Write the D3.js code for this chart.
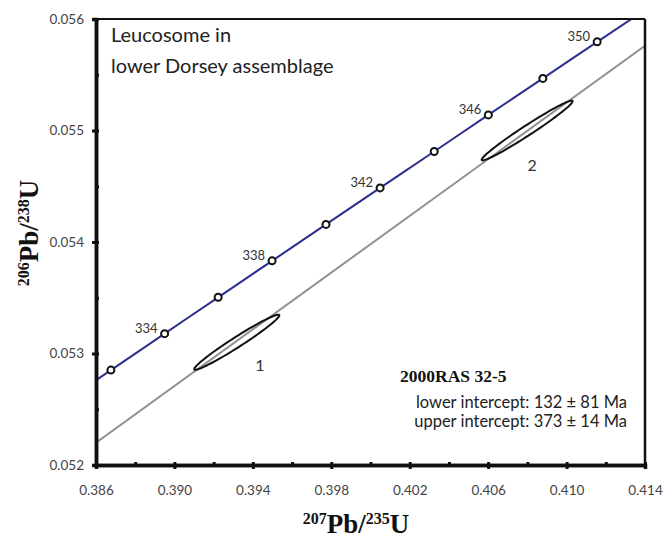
<!DOCTYPE html>
<html>
<head>
<meta charset="utf-8">
<script src="https://cdn.jsdelivr.net/npm/d3@7"></script>
<style>
  body { margin: 0; background: #fff; }
</style>
</head>
<body>
<div id="chart"></div>
<script>
// concordia ages (Ma) and their ratios
var concAges = [332, 334, 336, 338, 340, 342, 344, 346, 348, 350]
var concX = [0.38676, 0.38950, 0.39223, 0.39498, 0.39773, 0.40049, 0.40325, 0.40601, 0.40879, 0.41156]
var concY = [0.052851, 0.053178, 0.053504, 0.053831, 0.054158, 0.054485, 0.054812, 0.055140, 0.055467, 0.055795]
var labelAges = [334, 338, 342, 346, 350]
// curve ends, run past the frame and clipped
var concEndX = [0.38403, 0.41435]
var concEndY = [0.052524, 0.056122]

// discordia through the two analyses
var discX = [0.386, 0.414]
var discY = [0.05220, 0.05576]

// error ellipses: centre, half range, correlation
var ellLabels = ["1", "2"]
var ellX = [0.39318, 0.40799]
var ellY = [0.053101, 0.055000]
var ellSx = [0.00217, 0.00232]
var ellSy = [0.000247, 0.000268]
var ellRho = [0.976, 0.98]

var xMajor = [0.386, 0.390, 0.394, 0.398, 0.402, 0.406, 0.410, 0.414]
var xMinor = [0.388, 0.392, 0.396, 0.400, 0.404, 0.408, 0.412]
var yMajor = [0.052, 0.053, 0.054, 0.055, 0.056]
var yMinor = [0.0525, 0.0535, 0.0545, 0.0555]

var W = 663, H = 545
var L = 96, R = 645, T = 19, B = 465
var sans = "Lato, 'Open Sans', sans-serif"
var serif = "'Liberation Serif', 'DejaVu Serif', serif"

var svg = d3.select("#chart").append("svg").attr("width", W).attr("height", H)

var x = d3.scaleLinear().domain([0.386, 0.414]).range([L, R])
var y = d3.scaleLinear().domain([0.052, 0.056]).range([B, T])

svg.append("clipPath").attr("id", "plot")
  .append("rect").attr("x", L).attr("y", T).attr("width", R - L).attr("height", B - T)

var g = svg.append("g").attr("clip-path", "url(#plot)")

// discordia
var line = d3.line().x(d => x(d[0])).y(d => y(d[1]))
g.append("path")
  .attr("d", line(discX.map((v, i) => [v, discY[i]])))
  .attr("fill", "none").attr("stroke", "#8a9399").attr("stroke-width", 2)

// ellipses
ellX.forEach(function(cx, k) {
  var pts = d3.range(0, 361, 4).map(function(a) {
    var t = a * Math.PI / 180
    return [cx + ellSx[k] * Math.cos(t),
            ellY[k] + ellSy[k] * (ellRho[k] * Math.cos(t) + Math.sqrt(1 - ellRho[k] * ellRho[k]) * Math.sin(t))]
  })
  g.append("path").attr("d", line(pts) + "Z")
    .attr("fill", "none").attr("stroke", "#111").attr("stroke-width", 2)
})

// concordia
var cpts = [[concEndX[0], concEndY[0]]]
concX.forEach((v, i) => cpts.push([v, concY[i]]))
cpts.push([concEndX[1], concEndY[1]])
g.append("path")
  .attr("d", d3.line().curve(d3.curveMonotoneX).x(d => x(d[0])).y(d => y(d[1]))(cpts))
  .attr("fill", "none").attr("stroke", "#2b2f8e").attr("stroke-width", 2)

svg.selectAll(".age")
  .data(concAges)
  .enter().append("circle")
  .attr("cx", (d, i) => x(concX[i]))
  .attr("cy", (d, i) => y(concY[i]))
  .attr("r", 3.5)
  .attr("fill", "#fff").attr("stroke", "#111").attr("stroke-width", 2)

svg.selectAll(".agelab")
  .data(labelAges)
  .enter().append("text")
  .attr("x", d => x(concX[concAges.indexOf(d)]) - 7)
  .attr("y", d => y(concY[concAges.indexOf(d)]) - 1)
  .attr("text-anchor", "end")
  .style("font-family", sans).attr("font-size", 13).attr("fill", "#333")
  .text(d => d)

svg.selectAll(".elllab")
  .data(ellLabels)
  .enter().append("text")
  .attr("x", (d, i) => x(ellX[i]) + [23, 5][i])
  .attr("y", (d, i) => y(ellY[i]) + [29, 40][i])
  .attr("text-anchor", "middle")
  .style("font-family", sans).attr("font-size", 16).attr("fill", "#333")
  .text(d => d)

// frame
svg.append("line").attr("x1", L).attr("x2", R).attr("y1", T).attr("y2", T).attr("stroke", "#111").attr("stroke-width", 2)
svg.append("line").attr("x1", R).attr("x2", R).attr("y1", T).attr("y2", B).attr("stroke", "#111").attr("stroke-width", 2.5)

// axes
var xAxis = svg.append("g").attr("transform", "translate(0," + B + ")")
  .call(d3.axisBottom(x).tickValues(xMajor).tickFormat(d3.format(".3f")).tickSize(4).tickPadding(16))
var yAxis = svg.append("g").attr("transform", "translate(" + L + ",0)")
  .call(d3.axisLeft(y).tickValues(yMajor).tickFormat(d3.format(".3f")).tickSize(4).tickPadding(8))
svg.append("g").attr("transform", "translate(0," + B + ")")
  .call(d3.axisBottom(x).tickValues(xMinor).tickFormat("").tickSize(-3).tickSizeOuter(0))
svg.append("g").attr("transform", "translate(" + L + ",0)")
  .call(d3.axisLeft(y).tickValues(yMinor).tickFormat("").tickSize(-3).tickSizeOuter(0))

svg.selectAll(".domain").attr("stroke", "#111").attr("stroke-width", 3.5)
svg.selectAll(".tick line").attr("stroke", "#111").attr("stroke-width", 3)
xAxis.selectAll(".tick line").attr("y1", -3)
yAxis.selectAll(".tick line").attr("x1", 3)
svg.selectAll(".tick text").style("font-family", sans).attr("font-size", 13.5).attr("fill", "#444")

// texts
svg.append("text").attr("x", 111).attr("y", 42).style("font-family", sans).attr("font-size", 20).attr("fill", "#222").text("Leucosome in")
svg.append("text").attr("x", 111).attr("y", 73).style("font-family", sans).attr("font-size", 20).attr("fill", "#222").text("lower Dorsey assemblage")

svg.append("text").attr("x", 400).attr("y", 382)
  .style("font-family", serif).attr("font-weight", "bold").attr("font-size", 17.5).attr("fill", "#111")
  .text("2000RAS 32-5")
svg.append("text").attr("x", 627).attr("y", 408).attr("text-anchor", "end")
  .style("font-family", sans).attr("font-size", 16.5).attr("fill", "#222").text("lower intercept: 132 \u00b1 81 Ma")
svg.append("text").attr("x", 627).attr("y", 427).attr("text-anchor", "end")
  .style("font-family", sans).attr("font-size", 16.5).attr("fill", "#222").text("upper intercept: 373 \u00b1 14 Ma")

function isoLabel(sel, sup1, sup2) {
  sel.style("font-family", serif).attr("font-weight", "bold").attr("fill", "#111")
  sel.append("tspan").attr("font-size", 16).attr("dy", -9).text(sup1)
  sel.append("tspan").attr("font-size", 27).attr("dy", 9).text("Pb/")
  sel.append("tspan").attr("font-size", 16).attr("dy", -9).text(sup2)
  sel.append("tspan").attr("font-size", 27).attr("dy", 9).text("U")
}
svg.append("text").attr("x", 356).attr("y", 533).attr("text-anchor", "middle")
  .call(isoLabel, "207", "235")
svg.append("text").attr("transform", "translate(38,233) rotate(-90)").attr("text-anchor", "middle")
  .call(isoLabel, "206", "238")
</script>
</body>
</html>
